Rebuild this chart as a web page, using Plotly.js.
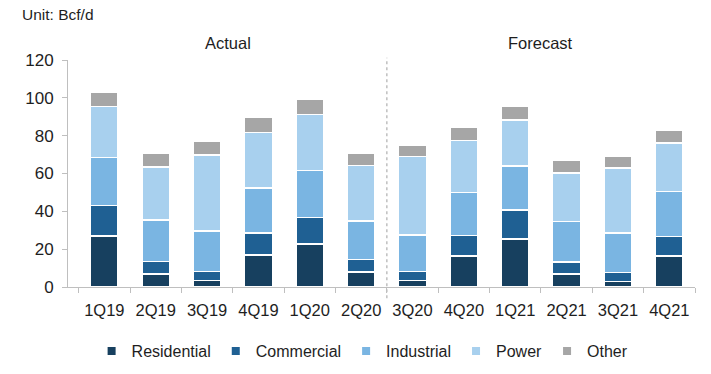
<!DOCTYPE html>
<html>
<head>
<meta charset="utf-8">
<script src="https://cdn.plot.ly/plotly-3.0.1.min.js"></script>
<style>html,body{margin:0;padding:0;background:#fff;}#chart{width:711px;height:374px;}</style>
</head>
<body>
<div id="chart"></div>
<script>
const categories = ["1Q19","2Q19","3Q19","4Q19","1Q20","2Q20","3Q20","4Q20","1Q21","2Q21","3Q21","4Q21"];
const residential = [27, 7, 3.5, 17, 22.7, 8, 3.5, 16.5, 25.5, 7, 3, 16.5];
const commercial  = [16, 6.5, 4.8, 11.5, 14, 6.5, 4.8, 10.6, 15.3, 6.2, 4.7, 10.2];
const industrial  = [25.5, 22, 21.4, 23.8, 24.8, 20.3, 19.3, 22.9, 23.2, 21.5, 20.8, 23.8];
const power       = [27, 28, 40, 29.3, 29.7, 29.5, 41.4, 27.4, 24.3, 25.5, 34.3, 25.5];
const other       = [7.5, 7, 7.2, 8, 8.1, 6.5, 6, 6.9, 7.1, 6.7, 6.5, 7];
const yTicks = [0, 20, 40, 60, 80, 100, 120];

const series = [
  {name: "Residential", y: residential, color: "#17405f"},
  {name: "Commercial",  y: commercial,  color: "#1f6093"},
  {name: "Industrial",  y: industrial,  color: "#7ab5e2"},
  {name: "Power",       y: power,       color: "#a8d0ee"},
  {name: "Other",       y: other,       color: "#a6a6a6"}
];

const traces = series.map(s => ({
  type: "bar", name: s.name, x: categories, y: s.y, showlegend: false,
  legendgroup: s.name,
  marker: {color: s.color, line: {color: "#ffffff", width: 1.5}},
  hoverinfo: "x+y+name"
}));
// legend entries with small square symbols
series.forEach(s => traces.push({
  type: "scatter", mode: "markers", name: s.name, legendgroup: s.name,
  x: [categories[0]], y: [null],
  marker: {symbol: "square", size: 8, color: s.color}, hoverinfo: "skip"
}));

const font = {family: "Liberation Sans, Arial, sans-serif", color: "#1e1e1e"};

const layout = {
  width: 711, height: 374,
  barmode: "stack", bargap: 0.46,
  margin: {l: 68, r: 16, t: 60, b: 87},
  paper_bgcolor: "#ffffff", plot_bgcolor: "#ffffff",
  font: Object.assign({size: 16}, font),
  title: {text: "Unit: Bcf/d", xref: "container", yref: "container", x: 0.031, xanchor: "left",
          y: 0.975, yanchor: "top", font: Object.assign({size: 15.5}, font)},
  showlegend: true,
  legend: {orientation: "h", xref: "container", yref: "container", x: 0.51, xanchor: "center",
           y: 0.107, yanchor: "top",
           font: Object.assign({size: 16}, font), itemwidth: 30, traceorder: "normal"},
  xaxis: {type: "category", showgrid: false, zeroline: false, automargin: false,
          showline: true, linecolor: "#bfbfbf", linewidth: 1,
          ticks: "outside", tickson: "boundaries", ticklen: 5, tickcolor: "#bfbfbf",
          ticklabelstandoff: 8,
          tickfont: Object.assign({size: 16.5}, font), fixedrange: true},
  yaxis: {range: [0, 120], tickvals: yTicks, showgrid: false, zeroline: false, automargin: false,
          showline: true, linecolor: "#bfbfbf", linewidth: 1,
          ticks: "outside", ticklen: 5, tickcolor: "#bfbfbf",
          ticklabelstandoff: 5,
          tickfont: Object.assign({size: 17}, font), fixedrange: true},
  shapes: [{type: "line", xref: "x", yref: "paper", x0: 5.5, x1: 5.5, y0: -0.05, y1: 1.01,
            line: {color: "#c0c0c0", width: 1.5, dash: "dot"}}],
  annotations: [
    {text: "Actual", xref: "x", yref: "paper", x: 2.4, y: 1.075, xanchor: "center", yanchor: "middle",
     showarrow: false, font: Object.assign({size: 16.5}, font)},
    {text: "Forecast", xref: "x", yref: "paper", x: 8.5, y: 1.075, xanchor: "center", yanchor: "middle",
     showarrow: false, font: Object.assign({size: 16.5}, font)}
  ]
};

Plotly.newPlot("chart", traces, layout, {displayModeBar: false, staticPlot: true});
</script>
</body>
</html>
